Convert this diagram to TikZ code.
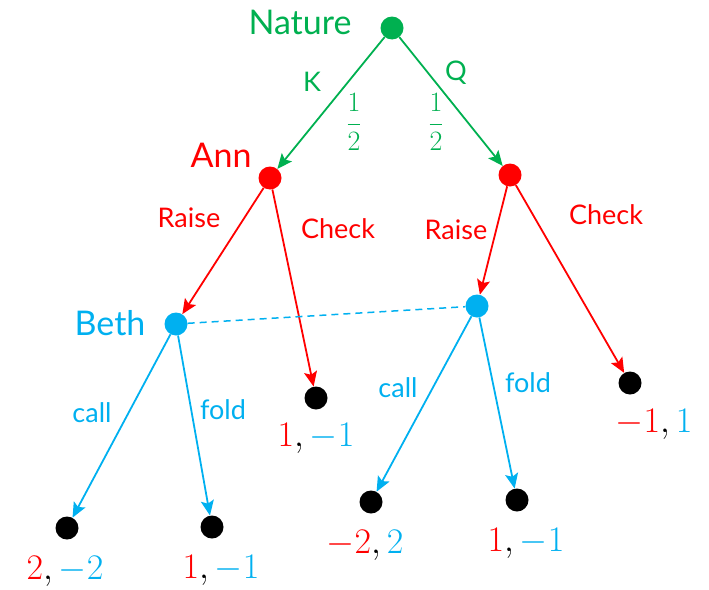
\RequirePackage{fix-cm}
\documentclass[tikz,border=0pt]{standalone}
\usepackage{fontspec}
\setmainfont{Lato}
\usetikzlibrary{arrows.meta}
\definecolor{ngreen}{RGB}{0,176,80}
\definecolor{nred}{RGB}{255,0,0}
\definecolor{nblue}{RGB}{0,176,240}
\tikzset{
  dot/.style={circle,draw=none,fill=#1,minimum size=23pt,inner sep=0pt},
  edge/.style={draw=#1,line width=1.8pt,-{Stealth[length=15pt,width=13pt,inset=3pt]}},
  lab/.style={text=#1,font=\fontsize{27}{31}\selectfont,inner sep=0pt},
  big/.style={text=#1,font=\fontsize{34}{38}\selectfont,inner sep=0pt},
  pay/.style={font=\fontsize{36}{40}\selectfont,inner sep=0pt},
}
\begin{document}
\begin{tikzpicture}[x=1pt,y=-1pt]
\useasboundingbox (0,0) rectangle (709,589);
% nodes
\node[dot=ngreen] (nat) at (392,28) {};
\node[dot=nred] (ann) at (270,178) {};
\node[dot=nred] (ann2) at (510,175) {};
\node[dot=nblue] (beth) at (176,324) {};
\node[dot=nblue] (beth2) at (477,306) {};
\node[dot=black] (t1) at (316,398) {};
\node[dot=black] (t2) at (630,383) {};
\node[dot=black] (t3) at (67,528) {};
\node[dot=black] (t4) at (212,527) {};
\node[dot=black] (t5) at (371,502) {};
\node[dot=black] (t6) at (517,500) {};
% edges
\draw[edge=ngreen] (nat) -- (ann);
\draw[edge=ngreen] (nat) -- (ann2);
\draw[edge=nred] (ann) -- (beth);
\draw[edge=nred] (ann) -- (t1);
\draw[edge=nred] (ann2) -- (beth2);
\draw[edge=nred] (ann2) -- (t2);
\draw[edge=nblue] (beth) -- (t3);
\draw[edge=nblue] (beth) -- (t4);
\draw[edge=nblue] (beth2) -- (t5);
\draw[edge=nblue] (beth2) -- (t6);
\draw[draw=nblue,line width=1.5pt,dash pattern=on 7pt off 5pt] (beth) -- (beth2);
% labels
\node[big=ngreen] (lnat) at (300,22) {Nature};
\node[lab=ngreen] (lk) at (312,82) {K};
\node[lab=ngreen] (lq) at (456,73) {Q};
\node[text=ngreen,inner sep=0pt] (lh1) at (354,122) {\fontsize{28}{32}\selectfont$\displaystyle\frac{1}{2}$};
\node[text=ngreen,inner sep=0pt] (lh2) at (436,122) {\fontsize{28}{32}\selectfont$\displaystyle\frac{1}{2}$};
\node[big=nred] (lann) at (221,155) {Ann};
\node[lab=nred] (lr1) at (189,218) {Raise};
\node[lab=nred] (lc1) at (338,229) {Check};
\node[lab=nred] (lr2) at (456,230) {Raise};
\node[lab=nred] (lc2) at (606,215) {Check};
\node[big=nblue] (lbeth) at (110,323) {Beth};
\node[lab=nblue] (lcall1) at (92,413) {call};
\node[lab=nblue] (lfold1) at (223,410) {fold};
\node[lab=nblue] (lcall2) at (398,388) {call};
\node[lab=nblue] (lfold2) at (528,383) {fold};
\node[pay] (p1) at (316,438) {$\textcolor{nred}{1}, \textcolor{nblue}{-1}$};
\node[pay] (p2) at (654,424) {$\textcolor{nred}{-1}, \textcolor{nblue}{1}$};
\node[pay] (p3) at (65,571) {$\textcolor{nred}{2}, \textcolor{nblue}{-2}$};
\node[pay] (p4) at (221,570) {$\textcolor{nred}{1}, \textcolor{nblue}{-1}$};
\node[pay] (p5) at (365,545) {$\textcolor{nred}{-2}, \textcolor{nblue}{2}$};
\node[pay] (p6) at (526,543) {$\textcolor{nred}{1}, \textcolor{nblue}{-1}$};
\end{tikzpicture}
\end{document}
